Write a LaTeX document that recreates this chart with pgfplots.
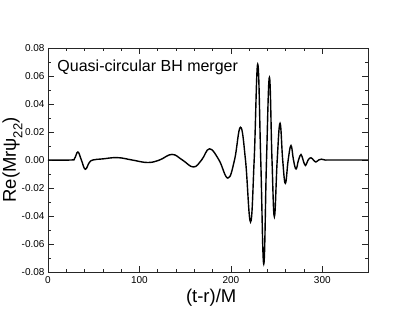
\documentclass[border=0pt]{standalone}
\usepackage{fontspec}
\setmainfont{Liberation Sans}
\usepackage{pgfplots}
\pgfplotsset{compat=1.18}
\begin{document}
\begin{tikzpicture}
\path[use as bounding box] (-48pt,-49pt) rectangle (367pt,272pt);
\begin{axis}[
  at={(0pt,0pt)}, anchor=south west,
  scale only axis, width=320pt, height=224pt,
  xmin=0, xmax=350, ymin=-0.08, ymax=0.08,
  xtick={0,100,200,300}, minor x tick num=4,
  ytick={-0.08,-0.06,-0.04,-0.02,0,0.02,0.04,0.06,0.08}, minor y tick num=1,
  major tick length=6pt, minor tick length=3.3pt,
  axis line style={black!85, line width=0.7pt},
  every tick/.style={black!85, line width=0.7pt},
  /pgf/number format/assume math mode=true,
  tick label style={font=\fontsize{10}{12}\selectfont},
  xticklabel style={yshift=-1.3pt},
  yticklabel style={/pgf/number format/.cd, fixed, fixed zerofill, precision=2},
  scaled y ticks=false,
  xlabel={(t-r)/M},
  ylabel={Re(Mrψ\raisebox{-0.35em}{\fontsize{13}{13}\selectfont 22})},
  every axis x label/.style={at={(axis description cs:0.51,0)}, anchor=base, yshift=-31pt, font=\fontsize{18.5}{22}\selectfont},
  every axis y label/.style={at={(axis description cs:-0.1,0.5)}, rotate=90, anchor=base, font=\fontsize{18.5}{22}\selectfont},
]
\addplot[black, line width=1.4pt, smooth, tension=0.7] coordinates {
(0,0) (25,0) (29,0.001) (32.7,0.0057) (36.5,0.0) (40.7,-0.0066) (45,-0.002) (49,0.0)
(60,0.0008) (76,0.0017) (92,0.0) (109,-0.0018) (122,0) (135.6,0.004) (147,0)
(159,-0.005) (168,0) (176.7,0.0080) (187,0) (196.7,-0.0129) (204,0) (210.5,0.0234)
(216,0) (221.5,-0.0443) (225.5,0) (229.4,0.0684) (232.7,0) (236,-0.0743) (239,0)
(242.2,0.059) (245,0) (247.6,-0.0405) (250.7,0) (253.8,0.0262) (256.7,0) (259.6,-0.0167)
(262.7,0) (265.8,0.0103) (268.5,0) (271.3,-0.0064) (274,0) (276.7,0.0039) (279,0)
(281.5,-0.0039) (284.5,0) (287.6,0.0016) (290.3,0) (293,-0.0014) (296,0) (299,0.0006)
(303,0) (310,0) (350,0)
};
\node[anchor=base west, inner sep=0pt, font=\fontsize{16}{18}\selectfont] at (rel axis cs:0.029,0.894) {Quasi-circular BH merger};
\end{axis}
\end{tikzpicture}
\end{document}
